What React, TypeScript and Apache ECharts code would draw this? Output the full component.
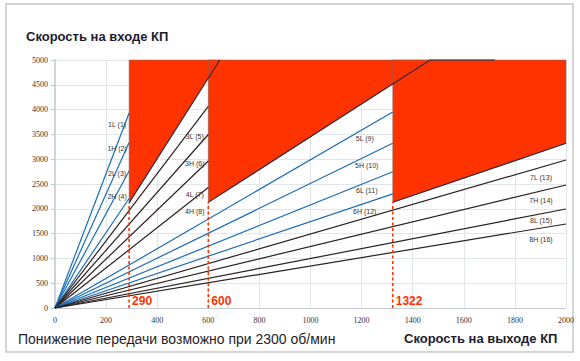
import React, { useEffect, useRef } from 'react';
import * as echarts from 'echarts';

// ---- data ----
const gearNames = [
  '1L (1)', '1H (2)', '2L (3)', '2H (4)',
  '3L (5)', '3H (6)', '4L (7)', '4H (8)',
  '5L (9)', '5H (10)', '6L (11)', '6H (12)',
  '7L (13)', '7H (14)', '8L (15)', '8H (16)',
];
// output speed (x) where each gear line ends
const gearEndOutput = [290, 290, 290, 290, 600, 600, 600, 600, 1322, 1322, 1322, 1322, 2000, 2000, 2000, 2000];
// input speed (y) at that end
const gearEndInput = [3931, 3337, 2762, 2208, 4063, 3498, 2964, 2429, 3952, 3321, 2748, 2302, 2984, 2480, 1996, 1694];

// red "no shift" zones
const zoneStart = [290, 600, 1322];
const zoneFloor = [2120, 2130, 2130];
const zoneEdgeEndX = [645, 1468, 2000];
const zoneEdgeEndY = [5000, 5000, 3320];
const zoneRidgeEndX = [645, 1722, 2000];
const markerLabels = ['290', '600', '1322'];

const xMin = 0, xMax = 2000, xStep = 200;
const yMin = 0, yMax = 5000, yStep = 500;

// ---- styling / layout ----
const BLUE = '#1b6cb4';
const DARK = '#2b2020';
const RED = '#ff3300';
// label offsets (px) relative to each line's end point
const labelOffsets: number[][] = [
  [-12, 11], [-12, 6], [-12, 2], [-12, -2],
  [-13.5, 30], [-13.5, 29], [-13.5, 34], [-13.5, 24],
  [-28, 27], [-26, 22.5], [-26, 18.5], [-28, 18],
  [-25, 17.5], [-25, 16], [-25, 12], [-25, 16],
];

export default function App() {
  const ref = useRef<HTMLDivElement>(null);
  useEffect(() => {
    if (!ref.current) return;
    const chart = echarts.init(ref.current, undefined, { renderer: 'svg' });

    const gearSeries = gearNames.map((name, i) => ({
      type: 'line',
      name,
      data: [[0, 0], [gearEndOutput[i], gearEndInput[i]]],
      showSymbol: false,
      silent: true,
      z: 3,
      lineStyle: { color: Math.floor(i / 4) % 2 === 0 ? BLUE : DARK, width: 1.2 },
    }));

    const option: any = {
      animation: false,
      grid: { left: 55, right: 14, top: 60, bottom: 53 },
      xAxis: {
        type: 'value', min: xMin, max: xMax, interval: xStep,
        axisLine: { show: true, lineStyle: { color: '#c4cad0', width: 1 } },
        axisTick: { show: false },
        axisLabel: { fontFamily: 'Liberation Serif', fontSize: 8, color: '#333', margin: 8, formatter: (v: number) => String(v) },
        splitLine: { show: true, lineStyle: { color: '#e1e6eb', width: 1 } },
      },
      yAxis: {
        type: 'value', min: yMin, max: yMax, interval: yStep,
        axisLine: { show: true, lineStyle: { color: '#cfd5db', width: 2 } },
        axisTick: { show: true, length: 4, lineStyle: { color: '#bfc5cc' } },
        axisLabel: { fontFamily: 'Liberation Serif', fontSize: 8, color: '#333', margin: 7, formatter: (v: number) => String(v) },
        splitLine: { show: true, lineStyle: { color: '#e1e6eb', width: 1 } },
      },
      graphic: [
        { type: 'rect', shape: { x: 6, y: 4, width: 567, height: 348 }, style: { fill: 'none', stroke: '#c6c6c6', lineWidth: 1.5 }, z: 0 },
        { type: 'text', x: 26, y: 36, style: { text: 'Скорость на входе КП', fontFamily: 'Liberation Sans', fontWeight: 'bold', fontSize: 13, fill: '#1c1c2c', textVerticalAlign: 'middle' } },
        { type: 'text', x: 18, y: 339, style: { text: 'Понижение передачи возможно при 2300 об/мин', fontFamily: 'Liberation Sans', fontSize: 14, fill: '#1e1e28', textVerticalAlign: 'middle' } },
        { type: 'text', x: 404, y: 338, style: { text: 'Скорость на выходе КП', fontFamily: 'Liberation Sans', fontWeight: 'bold', fontSize: 13, fill: '#1c1c2c', textVerticalAlign: 'middle' } },
      ],
      series: [
        {
          type: 'custom',
          silent: true,
          z: 2,
          data: zoneStart.map((s, i) => [s, zoneFloor[i]]),
          encode: { x: 0, y: 1 },
          renderItem: (params: any, api: any) => {
            const i = params.dataIndex;
            const s = zoneStart[i];
            const pts: number[][] = [[s, yMax], [s, zoneFloor[i]], [zoneEdgeEndX[i], zoneEdgeEndY[i]]];
            if (zoneEdgeEndY[i] < yMax) pts.push([xMax, yMax]);
            return {
              type: 'polygon',
              shape: { points: pts.map((p) => api.coord(p)) },
              style: { fill: RED, stroke: '#6b6b6b', lineWidth: 0.5 },
            };
          },
        },
        ...gearSeries,
        {
          type: 'custom',
          silent: true,
          z: 4,
          clip: false,
          data: zoneStart.map((s, i) => [s, zoneFloor[i]]),
          encode: { x: 0, y: 1 },
          renderItem: (params: any, api: any) => {
            const i = params.dataIndex;
            const pts: number[][] = [[zoneStart[i], zoneFloor[i]], [zoneEdgeEndX[i], zoneEdgeEndY[i]]];
            if (zoneRidgeEndX[i] > zoneEdgeEndX[i]) pts.push([zoneRidgeEndX[i], yMax]);
            return {
              type: 'polyline',
              shape: { points: pts.map((p) => api.coord(p)) },
              style: { fill: 'none', stroke: '#2a2a3a', lineWidth: 1.1 },
            };
          },
        },
        {
          type: 'custom',
          silent: true,
          z: 5,
          clip: false,
          data: zoneStart.map((s, i) => [s, zoneFloor[i]]),
          encode: { x: 0, y: 1 },
          renderItem: (params: any, api: any) => {
            const i = params.dataIndex;
            const base = api.coord([zoneStart[i], 0]);
            const top = api.coord([zoneStart[i], zoneFloor[i]]);
            return {
              type: 'group',
              children: [
                { type: 'line', shape: { x1: base[0], y1: base[1], x2: top[0], y2: top[1] }, style: { stroke: RED, lineWidth: 1.6, lineDash: [3, 2.5] } },
                { type: 'text', x: base[0] + 3, y: base[1] - 7, style: { text: markerLabels[i], fontFamily: 'Liberation Sans', fontWeight: 'bold', fontSize: 12, fill: RED, textVerticalAlign: 'middle' } },
              ],
            };
          },
        },
        {
          type: 'custom',
          silent: true,
          z: 6,
          clip: false,
          data: gearNames.map((_, i) => [gearEndOutput[i], gearEndInput[i]]),
          encode: { x: 0, y: 1 },
          renderItem: (params: any, api: any) => {
            const i = params.dataIndex;
            const p = api.coord([gearEndOutput[i], gearEndInput[i]]);
            const o = labelOffsets[i];
            return {
              type: 'text',
              x: p[0] + o[0],
              y: p[1] + o[1],
              style: { text: gearNames[i], fontFamily: 'Liberation Sans', fontSize: 7, fill: '#333', textAlign: 'center', textVerticalAlign: 'middle' },
            };
          },
        },
      ],
    };
    chart.setOption(option);
    return () => chart.dispose();
  }, []);
  return <div ref={ref} style={{ position: 'absolute', left: 0, top: 0, width: 580, height: 361, background: '#fff' }} />;
}
